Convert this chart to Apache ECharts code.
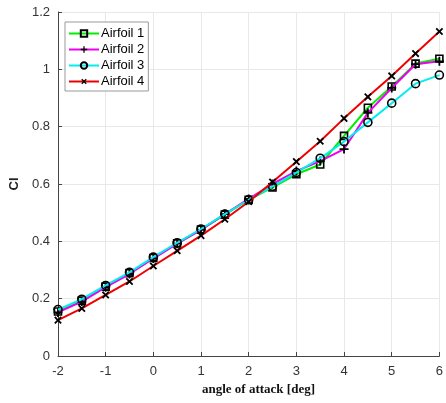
<!DOCTYPE html>
<html><head><meta charset="utf-8">
<script src="https://cdn.jsdelivr.net/npm/echarts@6/dist/echarts.min.js"></script>
<style>html,body{margin:0;padding:0;background:#fff}#c{width:446px;height:403px}</style>
</head><body><div id="c"></div>
<script>
const alpha = [-2,-1.5,-1,-0.5,0,0.5,1,1.5,2,2.5,3,3.5,4,4.5,5,5.5,6];
const airfoil1 = [0.155,0.193,0.242,0.289,0.342,0.393,0.441,0.493,0.545,0.588,0.634,0.668,0.768,0.866,0.940,1.020,1.037];
const airfoil2 = [0.152,0.190,0.240,0.286,0.340,0.392,0.440,0.495,0.548,0.600,0.645,0.680,0.722,0.848,0.935,1.018,1.028];
const airfoil3 = [0.162,0.198,0.246,0.292,0.345,0.395,0.443,0.495,0.545,0.592,0.640,0.690,0.748,0.815,0.882,0.950,0.980];
const airfoil4 = [0.125,0.166,0.213,0.260,0.314,0.367,0.420,0.477,0.538,0.607,0.678,0.749,0.829,0.904,0.977,1.055,1.132];
const names = ['Airfoil 1','Airfoil 2','Airfoil 3','Airfoil 4'];
const colors = ['#00ee00','#ee00ee','#00eeee','#ee0000'];

const plusPath = 'path://M4,0H6V4H10V6H6V10H4V6H0V4H4Z';
const pair = a => alpha.map((x,i)=>[x,a[i]]);
const mk = (i, data, sym, size, filled, rot) => ({
  name: names[i], type:'line', data: pair(data),
  symbol: sym, symbolSize: size, symbolRotate: rot||0, showSymbol:true,
  lineStyle:{color:colors[i], width:2},
  itemStyle: filled ? {color:'#000', borderWidth:0} : {color:'rgba(0,0,0,0)', borderColor:'#000', borderWidth:1.6},
  emphasis:{disabled:true}, animation:false, z: 2+i
});

const chart = echarts.init(document.getElementById('c'), null, {renderer:'canvas'});
chart.setOption({
  animation:false,
  grid:{left:52, right:3, top:12, bottom:47, containLabel:false},
  legend:{
    orient:'vertical', left:65, top:22, data:names,
    itemWidth:30, itemHeight:8, itemGap:3,
    backgroundColor:'#fff', borderColor:'#999', borderWidth:1, padding:[5,4,3,3],
    textStyle:{fontFamily:'Liberation Sans', fontSize:13, color:'#000', padding:[0,0,0,-3]}
  },
  xAxis:{
    type:'value', min:-2, max:6, interval:1,
    axisLine:{show:true, onZero:false, lineStyle:{color:'#444', width:1}},
    axisTick:{show:true, inside:true, length:4, lineStyle:{color:'#444'}},
    axisLabel:{fontFamily:'Liberation Sans', fontSize:13, color:'#333', margin:9},
    splitLine:{show:true, lineStyle:{color:'#e8e8e8', width:1}}
  },
  yAxis:{
    type:'value', min:0, max:1.2, interval:0.2,
    name:'Cl', nameLocation:'middle', nameGap:35,
    nameTextStyle:{fontFamily:'Liberation Sans', fontSize:13, fontWeight:'bold', color:'#222'},
    axisLine:{show:true, onZero:false, lineStyle:{color:'#444', width:1}},
    axisTick:{show:true, inside:true, length:4, lineStyle:{color:'#444'}},
    axisLabel:{fontFamily:'Liberation Sans', fontSize:13, color:'#333', margin:8,
      formatter: v => String(Math.round(v*10)/10)},
    splitLine:{show:true, lineStyle:{color:'#e8e8e8', width:1}}
  },
  graphic:[{type:'text', left:202, top:383, style:{text:'angle of attack [deg]', font:'bold 13px "Liberation Serif"', fill:'#111'}}],
  series:[
    mk(0, airfoil1, 'rect', 7, false),
    mk(1, airfoil2, plusPath, 9, true),
    mk(2, airfoil3, 'circle', 8, false),
    mk(3, airfoil4, plusPath, 9, true, 45)
  ]
});
</script></body></html>
